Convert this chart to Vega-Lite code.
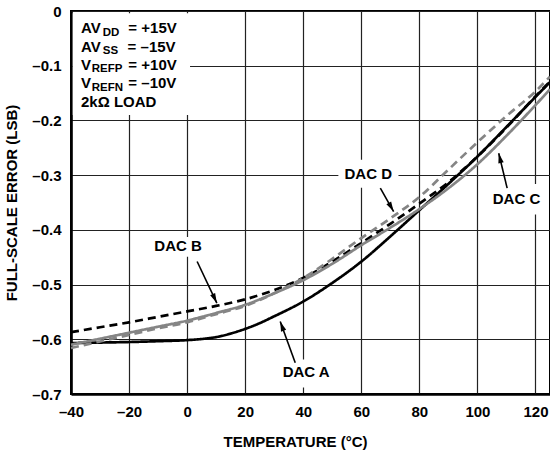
{
  "$schema": "https://vega.github.io/schema/vega-lite/v6.json",
  "width": 479,
  "height": 383,
  "autosize": "none",
  "padding": {"left": 71, "top": 11, "right": 0, "bottom": 60},
  "background": "white",
  "config": {
    "view": {"stroke": "#000", "strokeWidth": 2},
    "font": "Liberation Sans",
    "axis": {
      "labelFont": "Liberation Sans", "labelFontWeight": "bold", "labelFontSize": 15, "labelColor": "#000",
      "titleFont": "Liberation Sans", "titleFontWeight": "bold", "titleFontSize": 15, "titleColor": "#000",
      "gridColor": "#222", "gridWidth": 1.2, "gridOpacity": 1,
      "domainColor": "#000", "domainWidth": 2.6,
      "ticks": false, "tickSize": 0
    }
  },
  "datasets": {
    "curves": [
      {"series": "DAC A", "t": -40, "v": -0.607}, {"series": "DAC A", "t": -30, "v": -0.606}, {"series": "DAC A", "t": -20, "v": -0.605}, {"series": "DAC A", "t": -10, "v": -0.6035}, {"series": "DAC A", "t": 0, "v": -0.6015}, {"series": "DAC A", "t": 5, "v": -0.5995}, {"series": "DAC A", "t": 10, "v": -0.5960}, {"series": "DAC A", "t": 15, "v": -0.5895}, {"series": "DAC A", "t": 20, "v": -0.581}, {"series": "DAC A", "t": 25, "v": -0.5705}, {"series": "DAC A", "t": 30, "v": -0.558}, {"series": "DAC A", "t": 40, "v": -0.531}, {"series": "DAC A", "t": 50, "v": -0.497}, {"series": "DAC A", "t": 60, "v": -0.458}, {"series": "DAC A", "t": 70, "v": -0.412}, {"series": "DAC A", "t": 80, "v": -0.364}, {"series": "DAC A", "t": 90, "v": -0.316}, {"series": "DAC A", "t": 100, "v": -0.266}, {"series": "DAC A", "t": 110, "v": -0.212}, {"series": "DAC A", "t": 120, "v": -0.157}, {"series": "DAC A", "t": 125, "v": -0.130},
      {"series": "DAC B", "t": -40, "v": -0.587}, {"series": "DAC B", "t": -30, "v": -0.578}, {"series": "DAC B", "t": -20, "v": -0.569}, {"series": "DAC B", "t": -10, "v": -0.559}, {"series": "DAC B", "t": 0, "v": -0.549}, {"series": "DAC B", "t": 10, "v": -0.539}, {"series": "DAC B", "t": 20, "v": -0.527}, {"series": "DAC B", "t": 30, "v": -0.510}, {"series": "DAC B", "t": 40, "v": -0.488}, {"series": "DAC B", "t": 50, "v": -0.458}, {"series": "DAC B", "t": 60, "v": -0.424}, {"series": "DAC B", "t": 70, "v": -0.389}, {"series": "DAC B", "t": 80, "v": -0.352}, {"series": "DAC B", "t": 90, "v": -0.313}, {"series": "DAC B", "t": 100, "v": -0.266}, {"series": "DAC B", "t": 110, "v": -0.213}, {"series": "DAC B", "t": 120, "v": -0.156}, {"series": "DAC B", "t": 125, "v": -0.129},
      {"series": "DAC C", "t": -40, "v": -0.610}, {"series": "DAC C", "t": -30, "v": -0.599}, {"series": "DAC C", "t": -20, "v": -0.588}, {"series": "DAC C", "t": -10, "v": -0.577}, {"series": "DAC C", "t": 0, "v": -0.566}, {"series": "DAC C", "t": 10, "v": -0.552}, {"series": "DAC C", "t": 20, "v": -0.537}, {"series": "DAC C", "t": 30, "v": -0.516}, {"series": "DAC C", "t": 40, "v": -0.492}, {"series": "DAC C", "t": 50, "v": -0.462}, {"series": "DAC C", "t": 60, "v": -0.428}, {"series": "DAC C", "t": 70, "v": -0.396}, {"series": "DAC C", "t": 80, "v": -0.362}, {"series": "DAC C", "t": 90, "v": -0.324}, {"series": "DAC C", "t": 100, "v": -0.280}, {"series": "DAC C", "t": 110, "v": -0.228}, {"series": "DAC C", "t": 120, "v": -0.172}, {"series": "DAC C", "t": 125, "v": -0.143},
      {"series": "DAC D", "t": -40, "v": -0.616}, {"series": "DAC D", "t": -30, "v": -0.604}, {"series": "DAC D", "t": -20, "v": -0.592}, {"series": "DAC D", "t": -10, "v": -0.580}, {"series": "DAC D", "t": 0, "v": -0.569}, {"series": "DAC D", "t": 10, "v": -0.554}, {"series": "DAC D", "t": 20, "v": -0.539}, {"series": "DAC D", "t": 30, "v": -0.516}, {"series": "DAC D", "t": 40, "v": -0.488}, {"series": "DAC D", "t": 50, "v": -0.453}, {"series": "DAC D", "t": 60, "v": -0.415}, {"series": "DAC D", "t": 70, "v": -0.379}, {"series": "DAC D", "t": 80, "v": -0.340}, {"series": "DAC D", "t": 90, "v": -0.290}, {"series": "DAC D", "t": 100, "v": -0.240}, {"series": "DAC D", "t": 110, "v": -0.192}, {"series": "DAC D", "t": 120, "v": -0.147}, {"series": "DAC D", "t": 125, "v": -0.120}
    ],
    "boxes": [
      {"name": "conditions", "t1": -39.4, "t2": 1.0, "v1": -0.004, "v2": -0.19},
      {"name": "DAC D", "t1": 52.1, "t2": 72.8, "v1": -0.272, "v2": -0.323},
      {"name": "DAC C", "t1": 104.5, "t2": 122.8, "v1": -0.316, "v2": -0.372},
      {"name": "DAC B", "t1": -12.8, "t2": 6.9, "v1": -0.413, "v2": -0.449},
      {"name": "DAC A", "t1": 32.1, "t2": 50.0, "v1": -0.637, "v2": -0.688}
    ],
    "arrows": [
      {"label": "DAC A", "t1": 37.24, "v1": -0.6428, "t2": 32.07, "v2": -0.5674},
      {"label": "DAC B", "t1": 3.45, "v1": -0.4578, "t2": 10.24, "v2": -0.5338},
      {"label": "DAC C", "t1": 110.24, "v1": -0.3238, "t2": 107.34, "v2": -0.2599},
      {"label": "DAC D", "t1": 66.55, "v1": -0.3238, "t2": 71.14, "v2": -0.3665}
    ],
    "labels": [
      {"label": "DAC A", "t": 41.0, "v": -0.6605},
      {"label": "DAC B", "t": -3.1, "v": -0.4304},
      {"label": "DAC C", "t": 113.45, "v": -0.3433},
      {"label": "DAC D", "t": 62.4, "v": -0.2977}
    ],
    "notes": [
      {"text": "AV", "t": -36.55, "v": -0.0407},
      {"text": "= +15V", "t": -20.24, "v": -0.0407},
      {"text": "AV", "t": -36.55, "v": -0.0743},
      {"text": "= –15V", "t": -20.5, "v": -0.0743},
      {"text": "V", "t": -36.55, "v": -0.1077},
      {"text": "= +10V", "t": -20.24, "v": -0.1077},
      {"text": "V", "t": -36.55, "v": -0.1406},
      {"text": "= –10V", "t": -20.24, "v": -0.1406},
      {"text": "2kΩ LOAD", "t": -36.55, "v": -0.1753}
    ],
    "subs": [
      {"text": "DD", "t": -29.07, "v": -0.0451},
      {"text": "SS", "t": -29.07, "v": -0.0791},
      {"text": "REFP", "t": -32.86, "v": -0.1123},
      {"text": "REFN", "t": -32.86, "v": -0.1455}
    ]
  },
  "layer": [
    {
      "data": {"name": "boxes"},
      "mark": {"type": "rect", "fill": "white", "stroke": null},
      "encoding": {
        "x": {"field": "t1", "type": "quantitative", "scale": {"domain": [-40, 125], "nice": false, "zero": false}},
        "x2": {"field": "t2"},
        "y": {"field": "v1", "type": "quantitative", "scale": {"domain": [-0.7, 0], "nice": false, "zero": false}},
        "y2": {"field": "v2"}
      }
    },
    {
      "data": {"name": "curves"},
      "mark": {"type": "line", "interpolate": "monotone", "strokeWidth": 2.7},
      "encoding": {
        "x": {
          "field": "t", "type": "quantitative",
          "scale": {"domain": [-40, 125], "nice": false, "zero": false},
          "axis": {
            "title": "TEMPERATURE (°C)",
            "values": [-40, -20, 0, 20, 40, 60, 80, 100, 120],
            "labelExpr": "datum.value < 0 ? '–' + format(-datum.value, 'd') : format(datum.value, 'd')",
            "labelBaseline": "alphabetic", "labelPadding": 22, "labelFlush": false, "labelOverlap": false,
            "titleX": 224, "titleY": 52.5, "titleBaseline": "alphabetic", "titleAnchor": "middle", "titleAlign": "center"
          }
        },
        "y": {
          "field": "v", "type": "quantitative",
          "scale": {"domain": [-0.7, 0], "nice": false, "zero": false},
          "axis": {
            "title": "FULL-SCALE ERROR (LSB)",
            "values": [-0.7, -0.6, -0.5, -0.4, -0.3, -0.2, -0.1, 0],
            "labelExpr": "datum.value == 0 ? '0' : '–' + format(-datum.value, '.1f')",
            "labelPadding": 10, "labelFlush": false, "labelOverlap": false,
            "titlePadding": 12
          }
        },
        "color": {"field": "series", "type": "nominal", "scale": {"domain": ["DAC A", "DAC B", "DAC C", "DAC D"], "range": ["#000000", "#000000", "#858585", "#858585"]}, "legend": null},
        "strokeDash": {"field": "series", "type": "nominal", "scale": {"domain": ["DAC A", "DAC B", "DAC C", "DAC D"], "range": [[1, 0], [8, 5], [1, 0], [8, 5]]}, "legend": null}
      }
    },
    {
      "data": {"name": "arrows"},
      "mark": {"type": "rule", "color": "#000", "strokeWidth": 1.6},
      "encoding": {
        "x": {"field": "t1", "type": "quantitative", "scale": {"domain": [-40, 125], "nice": false, "zero": false}},
        "x2": {"field": "t2"},
        "y": {"field": "v1", "type": "quantitative", "scale": {"domain": [-0.7, 0], "nice": false, "zero": false}},
        "y2": {"field": "v2"}
      }
    },
    {
      "data": {"name": "arrows"},
      "transform": [{"filter": "datum.label == 'DAC A'"}],
      "mark": {"type": "point", "shape": "M0,0L0.5,1.8L-0.5,1.8Z", "size": 120, "filled": true, "color": "#000", "opacity": 1, "angle": 340},
      "encoding": {
        "x": {"field": "t2", "type": "quantitative", "scale": {"domain": [-40, 125], "nice": false, "zero": false}},
        "y": {"field": "v2", "type": "quantitative", "scale": {"domain": [-0.7, 0], "nice": false, "zero": false}}
      }
    },
    {
      "data": {"name": "arrows"},
      "transform": [{"filter": "datum.label == 'DAC B'"}],
      "mark": {"type": "point", "shape": "M0,0L0.5,1.8L-0.5,1.8Z", "size": 120, "filled": true, "color": "#000", "opacity": 1, "angle": 154.7},
      "encoding": {
        "x": {"field": "t2", "type": "quantitative", "scale": {"domain": [-40, 125], "nice": false, "zero": false}},
        "y": {"field": "v2", "type": "quantitative", "scale": {"domain": [-0.7, 0], "nice": false, "zero": false}}
      }
    },
    {
      "data": {"name": "arrows"},
      "transform": [{"filter": "datum.label == 'DAC C'"}],
      "mark": {"type": "point", "shape": "M0,0L0.5,1.8L-0.5,1.8Z", "size": 120, "filled": true, "color": "#000", "opacity": 1, "angle": 346.5},
      "encoding": {
        "x": {"field": "t2", "type": "quantitative", "scale": {"domain": [-40, 125], "nice": false, "zero": false}},
        "y": {"field": "v2", "type": "quantitative", "scale": {"domain": [-0.7, 0], "nice": false, "zero": false}}
      }
    },
    {
      "data": {"name": "arrows"},
      "transform": [{"filter": "datum.label == 'DAC D'"}],
      "mark": {"type": "point", "shape": "M0,0L0.5,1.8L-0.5,1.8Z", "size": 120, "filled": true, "color": "#000", "opacity": 1, "angle": 150.4},
      "encoding": {
        "x": {"field": "t2", "type": "quantitative", "scale": {"domain": [-40, 125], "nice": false, "zero": false}},
        "y": {"field": "v2", "type": "quantitative", "scale": {"domain": [-0.7, 0], "nice": false, "zero": false}}
      }
    },
    {
      "data": {"name": "labels"},
      "mark": {"type": "text", "font": "Liberation Sans", "fontWeight": "bold", "fontSize": 15, "color": "#000", "align": "center", "baseline": "middle"},
      "encoding": {
        "x": {"field": "t", "type": "quantitative", "scale": {"domain": [-40, 125], "nice": false, "zero": false}},
        "y": {"field": "v", "type": "quantitative", "scale": {"domain": [-0.7, 0], "nice": false, "zero": false}},
        "text": {"field": "label"}
      }
    },
    {
      "data": {"name": "notes"},
      "mark": {"type": "text", "font": "Liberation Sans", "fontWeight": "bold", "fontSize": 15, "color": "#000", "align": "left", "baseline": "alphabetic"},
      "encoding": {
        "x": {"field": "t", "type": "quantitative", "scale": {"domain": [-40, 125], "nice": false, "zero": false}},
        "y": {"field": "v", "type": "quantitative", "scale": {"domain": [-0.7, 0], "nice": false, "zero": false}},
        "text": {"field": "text"}
      }
    },
    {
      "data": {"name": "subs"},
      "mark": {"type": "text", "font": "Liberation Sans", "fontWeight": "bold", "fontSize": 11.5, "color": "#000", "align": "left", "baseline": "alphabetic"},
      "encoding": {
        "x": {"field": "t", "type": "quantitative", "scale": {"domain": [-40, 125], "nice": false, "zero": false}},
        "y": {"field": "v", "type": "quantitative", "scale": {"domain": [-0.7, 0], "nice": false, "zero": false}},
        "text": {"field": "text"}
      }
    }
  ]
}
